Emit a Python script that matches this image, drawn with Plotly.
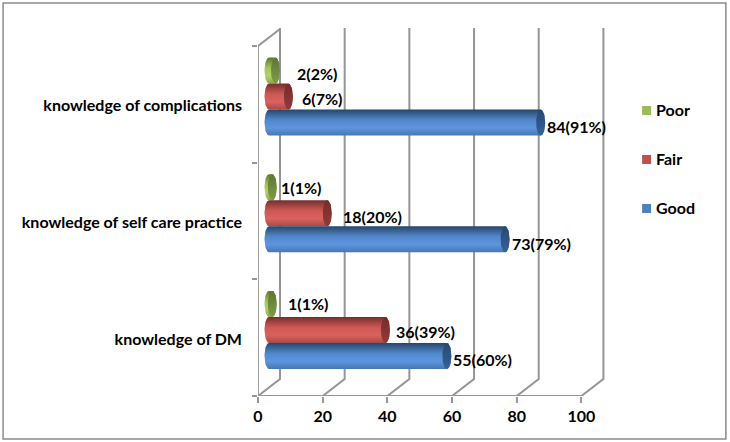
import numpy as np
import plotly.graph_objects as go

categories = ["knowledge of DM", "knowledge of self care practice", "knowledge of complications"]
series_names = ["Poor", "Fair", "Good"]
poor_counts = [1, 1, 2]
poor_pct = [1, 1, 2]
fair_counts = [36, 18, 6]
fair_pct = [39, 20, 7]
good_counts = [55, 73, 84]
good_pct = [60, 79, 91]
value_ticks = [0, 20, 40, 60, 80, 100]

W, H = 730, 442
LEFT, BOTTOM_PX = 258, 396
PX_PER_UNIT = 3.235
PX_PER_CAT = 116.67
# the x range runs on past 100 to leave room for the series key
X_MAX = 141.0
Y_MAX = 3.154
plot_w = X_MAX * PX_PER_UNIT
plot_h = Y_MAX * PX_PER_CAT

# 3D look: the bars and back wall sit behind the front axes
DEPTH_X = 22 / PX_PER_UNIT
DEPTH_Y = 17 / PX_PER_CAT
BAR_SHIFT = 11 / PX_PER_UNIT
CAP_RX = 4.5 / PX_PER_UNIT
BAR_H = 26 / PX_PER_CAT
GROUP_Y = 0.566

styles = {
    "Poor": dict(offset=BAR_H, legend="#9BBB59",
                 body=[[0, "#8aa84f"], [0.3, "#b0d267"], [0.6, "#a2c45c"], [1, "#5f7534"]],
                 cap=[[0, "#7f9c47"], [1, "#5f7534"]],
                 shift=[(14, 0), (7, 0), (20, -3)]),
    "Fair": dict(offset=0, legend="#C0504D",
                 body=[[0, "#a84a47"], [0.3, "#da625f"], [0.6, "#cd5855"], [1, "#742f2d"]],
                 cap=[[0, "#91393a"], [1, "#752d2b"]],
                 shift=[(9, -2), (14, -3), (12, -2)]),
    "Good": dict(offset=-BAR_H, legend="#4F81BD",
                 body=[[0, "#4677b2"], [0.3, "#5e95de"], [0.6, "#5287cb"], [1, "#264669"]],
                 cap=[[0, "#34629a"], [1, "#27496f"]],
                 shift=[(4, -4), (5, -4), (4, -4)]),
}
values = {"Poor": (poor_counts, poor_pct), "Fair": (fair_counts, fair_pct), "Good": (good_counts, good_pct)}

GRID = "#959595"
FONT = "Lato"
fig = go.Figure()

# back wall and floor guide lines
wall_x, wall_y = [], []
for v in value_ticks:
    wall_x += [v, v + DEPTH_X, v + DEPTH_X, None]
    wall_y += [0, DEPTH_Y, Y_MAX, None]
wall_x += [0, DEPTH_X, None]
wall_y += [3, 3 + DEPTH_Y, None]
fig.add_trace(go.Scatter(x=wall_x, y=wall_y, mode="lines", line=dict(color=GRID, width=2),
                         hoverinfo="skip", showlegend=False, cliponaxis=False))
# front axes
fig.add_trace(go.Scatter(x=[0, 0, 100], y=[3, 0, 0], mode="lines", line=dict(color=GRID, width=1.8),
                         hoverinfo="skip", showlegend=False, cliponaxis=False))

theta = np.linspace(0, 2 * np.pi, 61)
annotations = []
for name in series_names:
    st = styles[name]
    counts, pcts = values[name]
    for i, (count, pct) in enumerate(zip(counts, pcts)):
        yc = i + GROUP_Y + st["offset"]
        ry = BAR_H / 2
        x0, x1 = BAR_SHIFT, BAR_SHIFT + count
        up = np.linspace(-np.pi / 2, np.pi / 2, 31)
        # cylinder body: flat top and bottom, rounded at both ends
        xs = np.concatenate([x1 + CAP_RX * np.cos(up), x0 - CAP_RX * np.cos(up[::-1])])
        ys = np.concatenate([yc + ry * np.sin(up), yc + ry * np.sin(up[::-1])])
        fig.add_trace(go.Scatter(x=np.append(xs, xs[0]), y=np.append(ys, ys[0]), mode="lines",
                                 line=dict(width=0), fill="toself", name=name,
                                 fillgradient=dict(type="vertical", colorscale=st["body"]),
                                 hoverinfo="skip", showlegend=False))
        # darker end cap
        fig.add_trace(go.Scatter(x=x1 + CAP_RX * np.cos(theta), y=yc + ry * np.sin(theta), mode="lines",
                                 line=dict(width=0), fill="toself",
                                 fillgradient=dict(type="vertical", colorscale=st["cap"]),
                                 hoverinfo="skip", showlegend=False))
        dx, dy = st["shift"][i]
        annotations.append(dict(x=x1, y=yc, xref="x", yref="y", xanchor="left", yanchor="middle",
                                xshift=dx, yshift=dy, showarrow=False, text=f"<b>{count}({pct}%)</b>",
                                font=dict(family=FONT, size=16, color="#000000")))

# key at the right of the plot: a square swatch and bold name per series
key_y_px = [110.5, 159.5, 208.5]
key_y = [(BOTTOM_PX - p) / PX_PER_CAT for p in key_y_px]
fig.add_trace(go.Scatter(
    x=[(646.7 - LEFT) / PX_PER_UNIT] * len(series_names), y=key_y, mode="markers",
    marker=dict(symbol="square", size=9, color=[styles[n]["legend"] for n in series_names]),
    hoverinfo="skip", showlegend=False, cliponaxis=False))
for n, y in zip(series_names, key_y):
    annotations.append(dict(x=(656.5 - LEFT) / PX_PER_UNIT, y=y, xref="x", yref="y", xanchor="left",
                            yanchor="middle", xshift=-2, yshift=1, showarrow=False, text=f"<b>{n}</b>",
                            font=dict(family=FONT, size=16, color="#000000")))

fig.update_layout(
    width=W, height=H, autosize=False, showlegend=False,
    margin=dict(l=LEFT, r=W - LEFT - plot_w, b=H - BOTTOM_PX, t=BOTTOM_PX - plot_h, pad=0),
    paper_bgcolor="white", plot_bgcolor="white",
    font=dict(family=FONT, size=16, color="#000000"),
    xaxis=dict(range=[0, X_MAX], tickvals=value_ticks, showgrid=False, zeroline=False, showline=False,
               ticks="outside", ticklen=6, tickcolor=GRID, tickwidth=1.5,
               tickfont=dict(family=FONT, size=16, weight="bold")),
    yaxis=dict(range=[0, Y_MAX], tickvals=[i + 0.487 for i in range(3)], ticktext=categories,
               showgrid=False, zeroline=False, showline=False, ticks="", ticklabelstandoff=15,
               tickfont=dict(family=FONT, size=16, weight="bold"),
               minor=dict(tickvals=[0, 1, 2, 3], ticks="outside", ticklen=5, tickcolor=GRID, tickwidth=1.5, showgrid=False)),
    annotations=annotations,
    shapes=[dict(type="rect", xref="paper", yref="paper",
                 x0=(3 - LEFT) / plot_w, x1=(726 - LEFT) / plot_w,
                 y0=(BOTTOM_PX - 439) / plot_h, y1=(BOTTOM_PX - 3) / plot_h,
                 line=dict(color="#8c8c8c", width=1.5), layer="below")],
)
fig.write_html("out.html")
